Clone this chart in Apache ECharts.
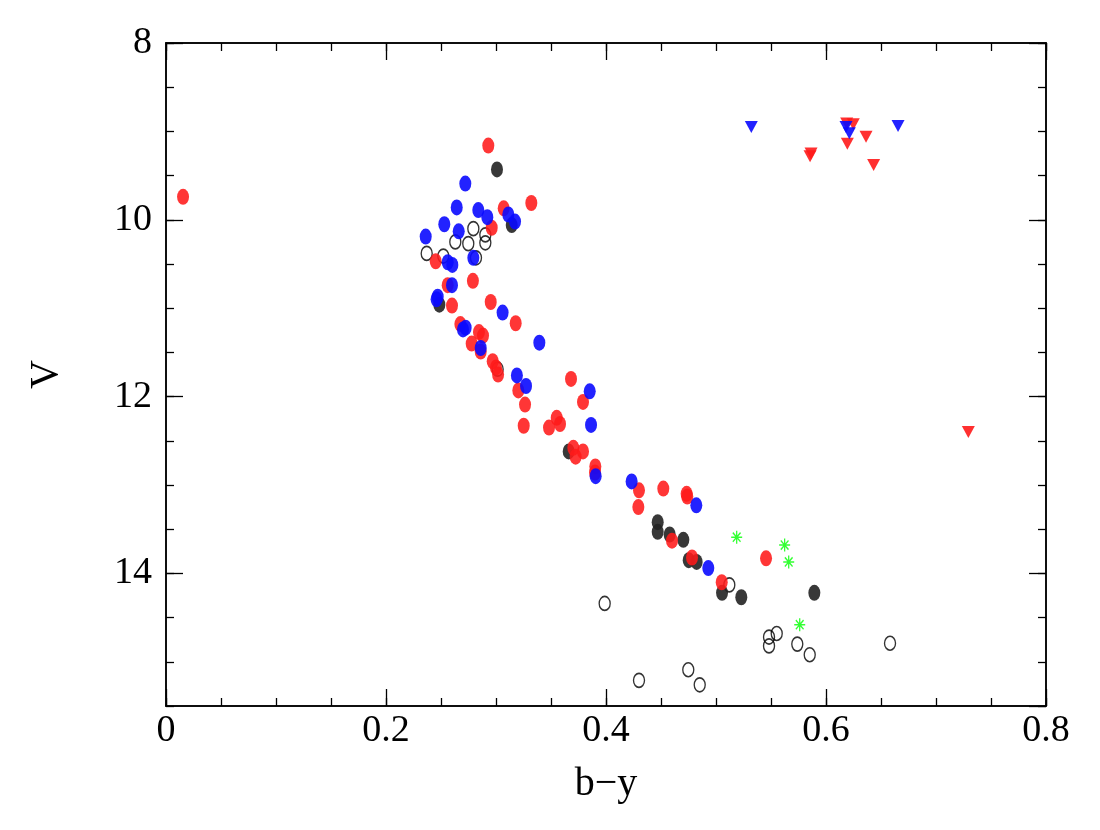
<!DOCTYPE html>
<html>
<head>
<meta charset="utf-8">
<script src="https://cdn.jsdelivr.net/npm/echarts@6/dist/echarts.min.js"></script>
<style>html,body{margin:0;padding:0;background:#fff}#c{width:1100px;height:830px}</style>
</head>
<body>
<div id="c"></div>
<script>
// [b-y, V]
const redDots = [
  [0.0155, 9.74],[0.2930, 9.16],[0.3321, 9.81],[0.3070, 9.87],[0.2961, 10.09],
  [0.2452, 10.47],[0.2561, 10.74],[0.2790, 10.69],[0.2600, 10.97],[0.2952, 10.93],
  [0.3179, 11.17],[0.2676, 11.18],[0.2845, 11.27],[0.2882, 11.31],[0.2779, 11.40],
  [0.2861, 11.49],[0.2970, 11.60],[0.3000, 11.67],[0.3019, 11.75],[0.3682, 11.80],
  [0.3203, 11.93],[0.3264, 12.09],[0.3252, 12.33],[0.3482, 12.35],[0.3552, 12.24],
  [0.3582, 12.31],[0.3791, 12.06],[0.3703, 12.58],[0.3724, 12.68],[0.3791, 12.62],
  [0.3903, 12.79],[0.3900, 12.86],[0.4300, 13.06],[0.4294, 13.25],[0.4521, 13.04],
  [0.4739, 13.13],[0.4733, 13.10],[0.4600, 13.63],[0.4782, 13.82],[0.5052, 14.10],
  [0.5455, 13.83]
];
const blueDots = [
  [0.2721, 9.59],[0.2643, 9.86],[0.2839, 9.89],[0.2921, 9.97],[0.3112, 9.94],
  [0.3173, 10.02],[0.2530, 10.05],[0.2661, 10.13],[0.2361, 10.19],[0.2561, 10.48],
  [0.2603, 10.51],[0.2794, 10.43],[0.2600, 10.74],[0.2460, 10.90],[0.2470, 10.87],
  [0.3060, 11.05],[0.3394, 11.39],[0.2724, 11.22],[0.2700, 11.24],[0.2861, 11.45],
  [0.3190, 11.76],[0.3273, 11.88],[0.3852, 11.94],[0.3864, 12.32],[0.3906, 12.90],
  [0.4233, 12.96],[0.4821, 13.23],[0.4930, 13.94]
];
const blackDots = [
  [0.3009, 9.43],[0.3143, 10.06],[0.2485, 10.96],[0.3661, 12.62],[0.4470, 13.42],
  [0.4470, 13.53],[0.4579, 13.56],[0.4703, 13.62],[0.4752, 13.85],[0.4824, 13.87],
  [0.5055, 14.22],[0.5230, 14.27],[0.5894, 14.22]
];
const openCircles = [
  [0.2794, 10.10],[0.2903, 10.17],[0.2630, 10.25],[0.2748, 10.27],[0.2903, 10.26],
  [0.2370, 10.38],[0.2521, 10.41],[0.2818, 10.43],[0.3015, 11.69],[0.5121, 14.13],
  [0.3988, 14.34],[0.4300, 15.21],[0.4748, 15.09],[0.4852, 15.26],[0.5482, 14.72],
  [0.5482, 14.82],[0.5552, 14.68],[0.5739, 14.80],[0.5852, 14.92],[0.6582, 14.79]
];
const greenStars = [
  [0.5188, 13.59],[0.5624, 13.68],[0.5661, 13.87],[0.5761, 14.58]
];
const redTriangles = [
  [0.5855, 9.28],[0.5864, 9.25],[0.6188, 8.91],[0.6248, 8.92],[0.6194, 9.14],
  [0.6364, 9.06],[0.6433, 9.38],[0.7294, 12.40]
];
const blueTriangles = [
  [0.5321, 8.95],[0.6182, 8.95],[0.6212, 9.02],[0.6655, 8.94]
];
const xTickLabels = ['0', '0.2', '0.4', '0.6', '0.8'];
const yTickLabels = ['8', '10', '12', '14'];

const FONT = 'Liberation Serif';
const axisLine = {show: true, onZero: false, lineStyle: {color: '#000', width: 1.5}};
function xAxisDef(pos, interval, tickLen, labels) {
  return {
    type: 'value', position: pos, min: 0, max: 0.8, interval: interval,
    axisLine: axisLine,
    axisTick: {show: true, inside: true, length: tickLen, lineStyle: {color: '#000', width: 1.3}},
    axisLabel: {show: labels, color: '#000', fontFamily: FONT, fontSize: 38, margin: 6,
      formatter: v => { const i = Math.round(v / 0.2); return Math.abs(v - i*0.2) < 1e-6 ? xTickLabels[i] : ''; }},
    splitLine: {show: false},
    name: labels ? 'b\u2212y' : '', nameLocation: 'middle', nameGap: 58,
    nameTextStyle: {color: '#000', fontFamily: FONT, fontSize: 40}
  };
}
function yAxisDef(pos, interval, tickLen, labels) {
  return {
    type: 'value', position: pos, min: 8, max: 15.5, interval: interval, inverse: true,
    axisLine: axisLine,
    axisTick: {show: true, inside: true, length: tickLen, lineStyle: {color: '#000', width: 1.3}},
    axisLabel: {show: labels, color: '#000', fontFamily: FONT, fontSize: 38, margin: 14,
      showMaxLabel: false,
      formatter: v => { const i = Math.round((v - 8) / 2); return Math.abs(v - 8 - i*2) < 1e-6 && i < yTickLabels.length ? yTickLabels[i] : ''; }},
    splitLine: {show: false},
    name: labels ? 'V' : '', nameLocation: 'middle', nameGap: 100,
    nameTextStyle: {color: '#000', fontFamily: FONT, fontSize: 40}
  };
}

const chart = echarts.init(document.getElementById('c'), null, {renderer: 'canvas'});
const dotSize = [12, 16];
const starPath = 'path://M5,0L5,10M0,5L10,5M1.5,1.5L8.5,8.5M1.5,8.5L8.5,1.5';
chart.setOption({
  animation: false,
  backgroundColor: '#fff',
  grid: {left: 166, right: 54, top: 43, bottom: 124},
  xAxis: [
    xAxisDef('bottom', 0.2, 17, true),
    xAxisDef('bottom', 0.05, 8, false),
    xAxisDef('top', 0.2, 17, false),
    xAxisDef('top', 0.05, 8, false)
  ],
  yAxis: [
    yAxisDef('left', 2, 17, true),
    yAxisDef('left', 0.5, 8, false),
    yAxisDef('right', 2, 17, false),
    yAxisDef('right', 0.5, 8, false)
  ],
  series: [
    {type: 'scatter', data: openCircles, symbol: 'circle', symbolSize: [11, 14],
      itemStyle: {color: 'rgba(255,255,255,0)', borderColor: '#000', borderWidth: 1.5}},
    {type: 'scatter', data: blackDots, symbol: 'circle', symbolSize: dotSize,
      itemStyle: {color: '#222', opacity: 0.9}},
    {type: 'scatter', data: redDots, symbol: 'circle', symbolSize: dotSize,
      itemStyle: {color: '#ff1a1a', opacity: 0.88}},
    {type: 'scatter', data: blueDots, symbol: 'circle', symbolSize: dotSize,
      itemStyle: {color: '#0a0aff', opacity: 0.9}},
    {type: 'scatter', data: greenStars, symbol: starPath, symbolSize: [11, 13],
      itemStyle: {color: 'rgba(0,0,0,0)', borderColor: '#00ff00', borderWidth: 1.4}},
    {type: 'scatter', data: redTriangles, symbol: 'triangle', symbolRotate: 180, symbolSize: [13, 12],
      itemStyle: {color: '#ff1a1a', opacity: 0.9}},
    {type: 'scatter', data: blueTriangles, symbol: 'triangle', symbolRotate: 180, symbolSize: [13, 12],
      itemStyle: {color: '#0a0aff', opacity: 0.9}}
  ]
});
</script>
</body>
</html>
